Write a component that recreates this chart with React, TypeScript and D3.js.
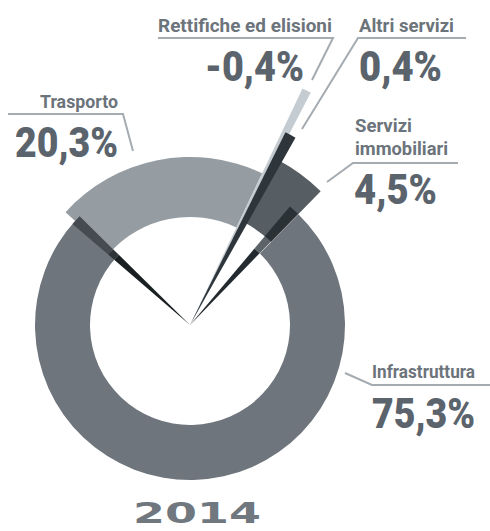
import * as d3 from 'd3';
import { useEffect, useRef } from 'react';

const WIDTH = 490;
const HEIGHT = 531;
const CENTER = { x: 190, y: 325 };

const CATEGORIES = ['Trasporto', 'Rettifiche ed elisioni', 'Altri servizi', 'Servizi immobiliari', 'Infrastruttura'];
const VALUES = [20.3, -0.4, 0.4, 4.5, 75.3];
const VALUE_LABELS = ['20,3%', '-0,4%', '0,4%', '4,5%', '75,3%'];
const YEAR = '2014';

const rad = (deg: number) => (deg * Math.PI) / 180;

type SliceStyle = { inner: number; outer: number; fill: string; padStart: number; padEnd: number };
const SLICE_STYLES: Record<string, SliceStyle> = {
    Trasporto: { inner: 108, outer: 168, fill: '#959da3', padStart: -0.8, padEnd: 0 },
    'Rettifiche ed elisioni': { inner: 0, outer: 262, fill: '#c4ccd1', padStart: 0, padEnd: 0.6 },
    'Altri servizi': { inner: 0, outer: 215, fill: '#2e363c', padStart: -0.5, padEnd: 1.1 },
    'Servizi immobiliari': { inner: 116, outer: 187, fill: '#565d63', padStart: 0, padEnd: 0 },
    Infrastruttura: { inner: 100, outer: 155, fill: '#6e757c', padStart: 0, padEnd: 0 },
};
const DRAW_ORDER = ['Trasporto', 'Servizi immobiliari', 'Infrastruttura'];
const TOP_ORDER = ['Rettifiche ed elisioni', 'Altri servizi'];

// callout layout: label lines, value text and leader line
type Callout = {
    labelX: number;
    labelBaselines: number[];
    labelWidths: number[];
    valueX: number;
    valueBaseline: number;
    valueWidth: number;
    leader: [number, number][];
};
const CALLOUTS: Record<string, Callout> = {
    Trasporto: {
        labelX: 40, labelBaselines: [108], labelWidths: [78],
        valueX: 15, valueBaseline: 157, valueWidth: 103,
        leader: [[8, 114], [123, 114], [133, 151]],
    },
    'Rettifiche ed elisioni': {
        labelX: 158, labelBaselines: [32], labelWidths: [174],
        valueX: 205, valueBaseline: 81, valueWidth: 99,
        leader: [[158, 38], [333, 38], [312, 80]],
    },
    'Altri servizi': {
        labelX: 359, labelBaselines: [32], labelWidths: [95],
        valueX: 359, valueBaseline: 81, valueWidth: 83,
        leader: [[466, 38], [358, 38], [302, 129]],
    },
    'Servizi immobiliari': {
        labelX: 355, labelBaselines: [132, 155], labelWidths: [57, 93],
        valueX: 354, valueBaseline: 204, valueWidth: 83,
        leader: [[458, 163], [353, 163], [327, 182]],
    },
    Infrastruttura: {
        labelX: 372, labelBaselines: [378], labelWidths: [103],
        valueX: 372, valueBaseline: 428, valueWidth: 103,
        leader: [[490, 385], [372, 385], [345, 373]],
    },
};

const FONT = "'Liberation Sans Narrow', 'Roboto', sans-serif";

const App = () => {
    const svgRef = useRef<SVGSVGElement>(null);

    useEffect(() => {
        if (!svgRef.current) return;
        const svg = d3.select(svgRef.current);
        svg.selectAll('*').remove();

        const pie = d3
            .pie<number>()
            .value((d) => Math.abs(d))
            .sort(null)
            .startAngle(rad(-47))
            .endAngle(rad(313));
        const arcs = pie(VALUES);
        const byName: Record<string, d3.PieArcDatum<number>> = {};
        CATEGORIES.forEach((c, i) => (byName[c] = arcs[i]));

        const g = svg.append('g').attr('transform', `translate(${CENTER.x},${CENTER.y})`);
        const arcGen = d3.arc<any>();

        const drawSlice = (name: string) => {
            const a = byName[name];
            const s = SLICE_STYLES[name];
            g.append('path')
                .attr(
                    'd',
                    arcGen({
                        innerRadius: s.inner,
                        outerRadius: s.outer,
                        startAngle: a.startAngle + rad(s.padStart),
                        endAngle: a.endAngle + rad(s.padEnd),
                    })
                )
                .attr('fill', s.fill);
        };

        DRAW_ORDER.forEach(drawSlice);

        // shadow wedges at the two ends of the big ring
        const infra = byName['Infrastruttura'];
        const shadows = [
            {
                start: infra.endAngle - rad(2.3),
                end: infra.endAngle + rad(1.6),
                pieces: [
                    [0, 100, '#1a1f22'],
                    [100, 108, '#2f3539'],
                    [108, 155, '#454b51'],
                ],
            },
            {
                start: infra.startAngle - rad(4.2),
                end: infra.startAngle - rad(0.2),
                pieces: [
                    [0, 100, '#232b30'],
                    [100, 116, '#5c6369'],
                    [116, 155, '#2b3236'],
                ],
            },
        ];
        shadows.forEach((sh) => {
            sh.pieces.forEach(([r0, r1, fill]) => {
                g.append('path')
                    .attr(
                        'd',
                        arcGen({
                            innerRadius: r0 as number,
                            outerRadius: r1 as number,
                            startAngle: sh.start,
                            endAngle: sh.end,
                        })
                    )
                    .attr('fill', fill as string);
            });
        });

        TOP_ORDER.forEach(drawSlice);

        // callouts
        CATEGORIES.forEach((name, i) => {
            const c = CALLOUTS[name];
            svg.append('path')
                .attr('d', d3.line()(c.leader))
                .attr('fill', 'none')
                .attr('stroke', '#a4abb1')
                .attr('stroke-width', 2);

            const lines = c.labelBaselines.length > 1 ? name.split(' ') : [name];
            lines.forEach((line, j) => {
                svg.append('text')
                    .attr('x', c.labelX)
                    .attr('y', c.labelBaselines[j])
                    .attr('textLength', c.labelWidths[j])
                    .attr('lengthAdjust', 'spacingAndGlyphs')
                    .attr('font-family', FONT)
                    .attr('font-weight', 'bold')
                    .attr('font-size', 19)
                    .attr('fill', '#6c747b')
                    .text(line);
            });

            svg.append('text')
                .attr('x', c.valueX)
                .attr('y', c.valueBaseline)
                .attr('textLength', c.valueWidth)
                .attr('lengthAdjust', 'spacingAndGlyphs')
                .attr('font-family', FONT)
                .attr('font-weight', 900)
                .attr('font-size', 43)
                .attr('fill', '#5b646c')
                .text(VALUE_LABELS[i]);
        });

        svg.append('text')
            .attr('x', 133)
            .attr('y', 523)
            .attr('textLength', 128)
            .attr('lengthAdjust', 'spacingAndGlyphs')
            .attr('font-family', "'DejaVu Sans', sans-serif")
            .attr('font-weight', 'bold')
            .attr('font-size', 28)
            .attr('fill', '#70777e')
            .text(YEAR);
    }, []);

    return (
        <div style={{ position: 'absolute', left: 0, top: 0 }}>
            <svg ref={svgRef} width={WIDTH} height={HEIGHT} style={{ display: 'block', background: '#fff' }}></svg>
        </div>
    );
};

export default App;
